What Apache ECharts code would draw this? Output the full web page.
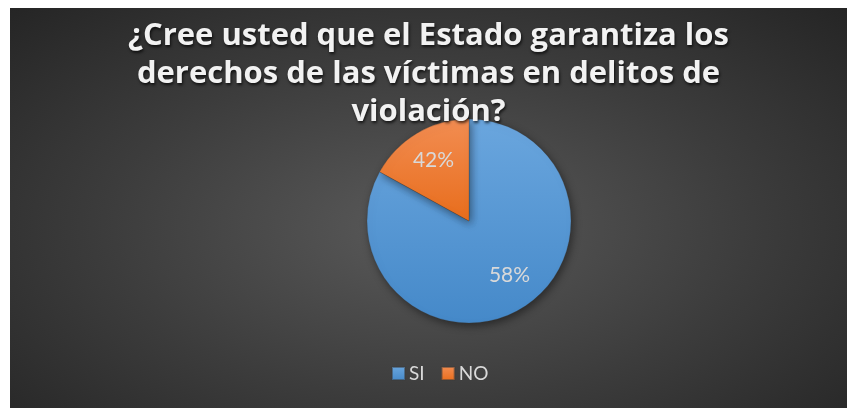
<!DOCTYPE html>
<html>
<head>
<meta charset="utf-8">
<script src="https://cdn.jsdelivr.net/npm/echarts@6/dist/echarts.min.js"></script>
<style>
  html, body { margin: 0; padding: 0; background: #fff; }
  #chart {
    position: absolute; left: 10px; top: 8px; width: 837px; height: 400px;
    background: radial-gradient(ellipse at 50% 55%, #5a5a5a 0%, #3c3c3c 55%, #252525 100%);
  }
</style>
</head>
<body>
<div id="chart"></div>
<script>
  const titleText = '¿Cree usted que el Estado garantiza los\nderechos de las víctimas en delitos de\nviolación?'
  const categories = ['SI', 'NO']
  // slice sizes as drawn in the picture
  const sliceValues = [83, 17]
  // percentages printed on the slices
  const sliceLabels = ['58%', '42%']
  const sliceColors = [
    ['#6aa6de', '#4589c9'],
    ['#f28d52', '#e86d1c']
  ]
  const labelShift = [[13, 8], [-8, -14]]

  const myChart = echarts.init(document.getElementById('chart'))
  myChart.setOption({
    animation: false,
    title: {
      text: titleText,
      left: 'center',
      top: 4,
      textStyle: {
        color: '#f2f2f2',
        fontFamily: 'Open Sans',
        fontWeight: 'bold',
        fontSize: 31,
        lineHeight: 38,
        textShadowColor: 'rgba(0,0,0,0.7)',
        textShadowBlur: 3,
        textShadowOffsetX: 1,
        textShadowOffsetY: 2
      }
    },
    legend: {
      data: categories,
      left: 376,
      top: 351,
      itemWidth: 13,
      itemHeight: 13,
      itemGap: 16,
      icon: 'rect',
      textStyle: {
        color: '#d9d9d9',
        fontFamily: 'Lato',
        fontSize: 19,
        padding: [0, 0, 0, -1]
      }
    },
    series: [{
      type: 'pie',
      center: [459, 213],
      radius: 102,
      startAngle: 90,
      clockwise: true,
      silent: true,
      itemStyle: {
        borderColor: 'rgba(60,60,60,0.5)',
        borderWidth: 0.5,
        shadowBlur: 8,
        shadowColor: 'rgba(0,0,0,0.45)',
        shadowOffsetX: 2,
        shadowOffsetY: 3
      },
      label: {
        position: 'inside',
        color: '#d9d9d9',
        fontFamily: 'Lato',
        fontSize: 21,
        formatter: p => sliceLabels[p.dataIndex]
      },
      labelLayout: p => ({ dx: labelShift[p.dataIndex][0], dy: labelShift[p.dataIndex][1] }),
      data: categories.map((name, i) => ({
        name: name,
        value: sliceValues[i],
        itemStyle: {
          color: new echarts.graphic.LinearGradient(0, 0, 0, 1, [
            { offset: 0, color: sliceColors[i][0] },
            { offset: 1, color: sliceColors[i][1] }
          ])
        }
      }))
    }]
  })
</script>
</body>
</html>
